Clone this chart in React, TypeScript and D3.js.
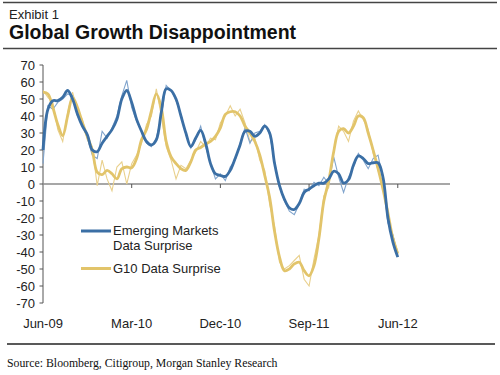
import React from "react";
import * as d3 from "d3";

// Half-month steps from Jun-09 (index 0) to Jun-12 (index 72)
const emSmooth = [20, 44, 49, 49, 51, 55, 50, 41, 34, 29, 20, 19, 24, 28, 32, 38, 50, 55, 48, 38, 31, 25, 23, 26, 42, 56, 55, 50, 40, 30, 22, 27, 31.5, 24, 12, 6, 5, 4.5, 8, 15, 23, 31, 31, 28, 30, 34, 30, 12, -1, -9, -14, -15, -11.5, -5, -3, -1, 0.5, 0.5, 3, 7.5, 6, 0.5, 2.5, 11, 16.5, 15, 12, 12.5, 12.5, 4, -20, -34, -43];
const emRaw = [12, 46, 44, 48, 50, 53, 52, 40, 35, 27, 17, 15, 31, 27, 33, 40, 52, 61, 45, 37, 31, 24, 22, 27, 40, 58, 55, 49, 41, 29, 21, 26, 34, 22, 12, 3, 6, 2, 10, 14, 24, 33, 24, 30, 31, 35, 29, 13, -2, -10, -16, -18, -12, -3, -4, 1, -1, 4, 0, 16, 4, -5, 4, 10, 18, 14, 9, 15, 17, 3, -23, -30, -42];
const g10Smooth = [54, 53, 45, 35, 28.5, 40, 51, 45, 36, 28, 20, 7, 5.5, 8, 6, 3, 9, 10, 9.5, 15, 26, 32, 43, 53, 45, 25, 16, 12, 9, 8, 13, 20, 21.5, 23.5, 25, 28, 33, 41, 42.5, 42.5, 40, 34, 30, 25, 17, 5, -8, -28, -43, -51, -50, -47, -46, -51, -54, -48, -32, -10, 2, 19, 31, 32.5, 30, 34, 40, 39, 30, 20, 9, -3, -17, -32, -41];
const g10Raw = [55, 51, 48, 32, 25, 42, 54, 43, 38, 26, 22, -1, 14, 3, -4, 10, 13, 0, 12, 17, 24, 35, 40, 56, 40, 22, 14, 3, 11, 9, 14, 19, 25, 22, 27, 26, 36, 40, 46, 40, 44, 36, 25, 27, 14, 8, -12, -25, -46, -50, -48, -45, -42, -56, -60, -44, -30, -7, -2, 20, 34, 31, 25, 37, 43, 38, 32, 18, 8, -2, -20, -30, -40];

const xTickMonths = [0, 9, 18, 27, 36];
const xTickLabels = ["Jun-09", "Mar-10", "Dec-10", "Sep-11", "Jun-12"];
const yTicks = d3.range(-70, 71, 10);
const legendLabels = [["Emerging Markets", "Data Surprise"], ["G10 Data Surprise"]];

const BLUE = "#3b6fa5";
const BLUE_LIGHT = "#7fa3cc";
const GOLD = "#e2c46a";
const GOLD_LIGHT = "#e9d08c";
const FONT = "'Liberation Sans', Arial, sans-serif";

export default function App() {
  const x = d3.scaleLinear().domain([0, 41.3]).range([43, 450]);
  const y = d3.scaleLinear().domain([-70, 70]).range([303, 65]);
  const idx = (i: number) => i * 0.5;

  const smooth = d3
    .line<number>()
    .x((_, i) => x(idx(i)))
    .y((d) => y(d))
    .curve(d3.curveCatmullRom.alpha(0.5));
  const raw = d3
    .line<number>()
    .x((_, i) => x(idx(i)))
    .y((d) => y(d));

  return (
    <svg
      width={500}
      height={375}
      style={{ position: "absolute", left: 0, top: 0, background: "#fff" }}
      fontFamily={FONT}
    >
      <line x1={3} x2={497} y1={2.5} y2={2.5} stroke="#444" strokeWidth={1.5} />
      <text x={9} y={18.5} fontSize={13} fill="#222">Exhibit 1</text>
      <text x={9} y={39} fontSize={19.5} fontWeight="bold" fill="#111">Global Growth Disappointment</text>
      <line x1={3} x2={497} y1={48.5} y2={48.5} stroke="#444" strokeWidth={1.5} />

      {/* y axis */}
      <line x1={43} x2={43} y1={y(70)} y2={y(-70)} stroke="#555" strokeWidth={1} />
      {yTicks.map((t) => (
        <g key={t}>
          <line x1={39.5} x2={43} y1={y(t)} y2={y(t)} stroke="#555" strokeWidth={1} />
          <text x={35} y={y(t) + 4.5} fontSize={13} textAnchor="end" fill="#222">{t}</text>
        </g>
      ))}

      {/* zero line */}
      <line x1={43} x2={450} y1={y(0)} y2={y(0)} stroke="#8a8a8a" strokeWidth={1.5} />
      {xTickMonths.slice(1).map((m) => (
        <line key={m} x1={x(m)} x2={x(m)} y1={y(0)} y2={y(0) + 4} stroke="#555" strokeWidth={1} />
      ))}
      {xTickMonths.map((m, i) => (
        <text key={m} x={x(m)} y={328} fontSize={13} textAnchor="middle" fill="#222">{xTickLabels[i]}</text>
      ))}

      {/* series */}
      <path d={raw(g10Raw) || ""} fill="none" stroke={GOLD_LIGHT} strokeWidth={1.1} />
      <path d={raw(emRaw) || ""} fill="none" stroke={BLUE_LIGHT} strokeWidth={1.1} />
      <path d={smooth(g10Smooth) || ""} fill="none" stroke={GOLD} strokeWidth={2.8} strokeLinejoin="round" />
      <path d={smooth(emSmooth) || ""} fill="none" stroke={BLUE} strokeWidth={2.8} strokeLinejoin="round" />

      {/* legend */}
      <line x1={81} x2={111} y1={231} y2={231} stroke={BLUE} strokeWidth={3} />
      <text x={113} y={235} fontSize={13} fill="#222">{legendLabels[0][0]}</text>
      <text x={113} y={250} fontSize={13} fill="#222">{legendLabels[0][1]}</text>
      <line x1={81} x2={111} y1={268.5} y2={268.5} stroke={GOLD} strokeWidth={3} />
      <text x={113} y={273} fontSize={13} fill="#222">{legendLabels[1][0]}</text>

      {/* footer */}
      <line x1={7} x2={495} y1={344} y2={344} stroke="#222" strokeWidth={1.3} />
      <text x={7} y={367} fontSize={11.8} fontFamily="'Liberation Serif', 'Times New Roman', serif" fill="#111">
        Source: Bloomberg, Citigroup, Morgan Stanley Research
      </text>
    </svg>
  );
}
